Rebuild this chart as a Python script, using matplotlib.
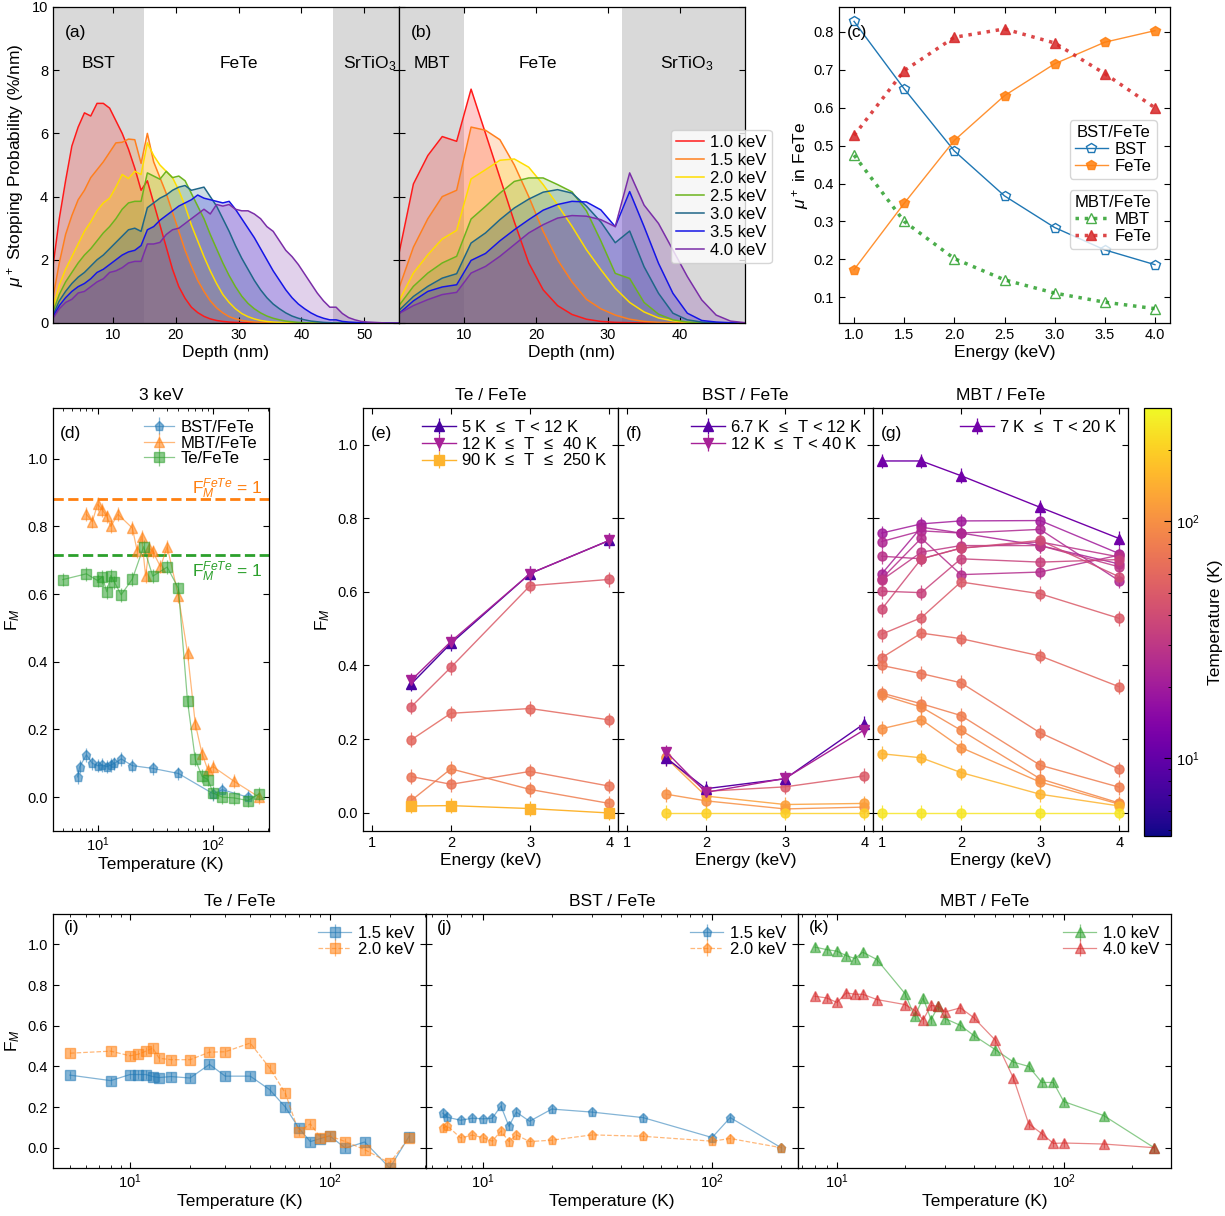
import numpy as np
import matplotlib
matplotlib.use("Agg")
import matplotlib.pyplot as plt
from matplotlib.colors import LogNorm
from matplotlib.cm import ScalarMappable

plt.rcParams["font.family"] = ["Liberation Sans", "DejaVu Sans"]
plt.rcParams["mathtext.fontset"] = "custom"
plt.rcParams["mathtext.rm"] = "Liberation Sans"
plt.rcParams["mathtext.it"] = "Liberation Sans:italic"
plt.rcParams["mathtext.bf"] = "Liberation Sans:bold"
plt.rcParams["axes.linewidth"] = 0.9

LABEL_FS = 12.5
TICK_FS = 10.5
LEG_FS = 12

# ---------------- stopping profiles (TRIM.SP) ----------------
ENERGY_LABELS = ["1.0 keV", "1.5 keV", "2.0 keV", "2.5 keV", "3.0 keV", "3.5 keV", "4.0 keV"]
PROFILE_COLORS = ["#ff1a1a", "#ff7f1e", "#ffdd00", "#6cb41e", "#1f6688", "#1515e6", "#7a2ea8"]

DEPTH_BST = np.arange(0.5, 56.0, 1.0)
PROF_BST = [
    [1.8, 3.3, 4.5, 5.6, 6.2, 6.65, 6.55, 6.95, 6.95, 6.8, 6.4, 6.0, 5.5, 4.9, 4.2, 4.5, 3.8, 3.1,
     2.4, 1.7, 1.15, 0.78, 0.5, 0.33, 0.21, 0.13, 0.08, 0.05, 0.03, 0.02, 0.01, 0.01],
    [0.8, 1.9, 2.8, 3.4, 3.9, 4.2, 4.6, 4.85, 5.1, 5.4, 5.7, 5.72, 5.82, 5.8, 5.05, 6.0, 5.1, 4.6,
     4.1, 3.5, 2.9, 2.3, 1.8, 1.35, 1.0, 0.7, 0.48, 0.32, 0.2, 0.13, 0.08, 0.05, 0.03, 0.02, 0.01],
    [0.5, 1.2, 1.7, 2.1, 2.5, 2.9, 3.2, 3.55, 3.8, 3.95, 4.3, 4.7, 4.57, 4.8, 4.7, 5.7, 5.3, 5.0,
     4.8, 4.6, 4.2, 3.7, 3.1, 2.6, 2.1, 1.65, 1.25, 0.9, 0.65, 0.45, 0.3, 0.2, 0.13, 0.08, 0.05,
     0.03, 0.02, 0.01],
    [0.35, 0.9, 1.3, 1.6, 1.9, 2.15, 2.35, 2.6, 2.85, 3.05, 3.3, 3.6, 3.8, 3.85, 3.85, 4.75, 4.65,
     4.55, 4.8, 4.6, 4.65, 4.5, 4.1, 3.7, 3.3, 2.8, 2.35, 1.9, 1.5, 1.15, 0.85, 0.62, 0.45, 0.32,
     0.22, 0.15, 0.1, 0.06, 0.04, 0.02, 0.01],
    [0.25, 0.7, 1.0, 1.25, 1.45, 1.6, 1.8, 2.0, 2.15, 2.35, 2.55, 2.75, 2.95, 3.0, 2.9, 3.65, 3.8,
     3.95, 4.05, 4.2, 4.3, 4.35, 4.2, 4.25, 4.3, 4.0, 3.7, 3.3, 2.9, 2.45, 2.05, 1.7, 1.35, 1.05,
     0.8, 0.6, 0.45, 0.32, 0.22, 0.15, 0.1, 0.06, 0.04, 0.02, 0.01],
    [0.2, 0.55, 0.8, 1.0, 1.15, 1.25, 1.4, 1.6, 1.7, 1.85, 2.0, 2.15, 2.25, 2.3, 2.45, 2.95, 3.05,
     3.25, 3.4, 3.55, 3.7, 3.8, 3.9, 4.05, 3.95, 3.9, 3.85, 3.8, 3.85, 3.6, 3.3, 3.0, 2.7, 2.35,
     2.0, 1.65, 1.35, 1.05, 0.8, 0.6, 0.45, 0.32, 0.22, 0.15, 0.1, 0.1, 0.05, 0.03, 0.02, 0.01],
    [0.15, 0.45, 0.65, 0.75, 0.95, 1.0, 1.15, 1.3, 1.4, 1.6, 1.65, 1.75, 1.9, 1.95, 1.95, 2.5, 2.5,
     2.55, 2.8, 2.95, 3.0, 3.15, 3.3, 3.45, 3.6, 3.45, 3.75, 3.7, 3.75, 3.6, 3.55, 3.55, 3.45, 3.3,
     3.05, 2.9, 2.6, 2.3, 2.1, 1.85, 1.55, 1.25, 0.95, 0.7, 0.5, 0.5, 0.3, 0.17, 0.1, 0.05, 0.03,
     0.02, 0.01],
]

DEPTH_MBT = np.arange(1.0, 50.0, 2.0)
PROF_MBT = [
    [2.2, 4.4, 5.3, 5.9, 5.75, 7.4, 6.0, 4.6, 3.2, 1.9, 1.05, 0.55, 0.27, 0.12, 0.05, 0.02, 0.01],
    [1.1, 2.4, 3.3, 4.0, 4.2, 6.2, 6.1, 5.8, 5.0, 4.0, 2.9, 2.0, 1.3, 0.75, 0.45, 0.25, 0.12,
     0.05, 0.02, 0.01],
    [0.7, 1.58, 2.16, 2.66, 2.93, 4.56, 4.85, 5.15, 5.19, 4.93, 4.38, 3.74, 3.06, 2.32, 1.69,
     1.1, 0.65, 0.35, 0.16, 0.07, 0.02, 0.01],
    [0.55, 1.16, 1.58, 1.9, 2.11, 3.29, 3.69, 4.11, 4.48, 4.59, 4.59, 4.38, 4.15, 3.55, 2.6,
     1.57, 1.41, 0.65, 0.28, 0.1, 0.03, 0.01],
    [0.4, 0.84, 1.16, 1.42, 1.56, 2.53, 2.85, 3.27, 3.64, 3.92, 4.14, 4.22, 4.11, 3.7, 3.2, 2.54,
     2.91, 1.78, 0.94, 0.31, 0.1, 0.03, 0.01],
    [0.3, 0.7, 1.0, 1.14, 1.21, 1.98, 2.2, 2.6, 2.95, 3.27, 3.57, 3.75, 3.85, 3.83, 3.58, 3.05,
     4.16, 3.05, 1.89, 0.94, 0.31, 0.08, 0.03, 0.01],
    [0.3, 0.55, 0.74, 0.9, 0.97, 1.58, 1.79, 2.11, 2.48, 2.85, 3.11, 3.32, 3.4, 3.38, 3.27, 3.05,
     4.75, 3.73, 3.15, 2.31, 1.47, 0.73, 0.25, 0.06, 0.01],
]

# ---------------- fraction of muons stopping in FeTe ----------------
E_FRAC = [1.0, 1.5, 2.0, 2.5, 3.0, 3.5, 4.0]
BST_FRAC_BST = [0.828, 0.65, 0.486, 0.3675, 0.284, 0.225, 0.186]
BST_FRAC_FETE = [0.173, 0.348, 0.514, 0.632, 0.716, 0.773, 0.8035]
MBT_FRAC_MBT = [0.475, 0.30, 0.202, 0.146, 0.111, 0.087, 0.07]
MBT_FRAC_FETE = [0.527, 0.698, 0.786, 0.808, 0.771, 0.69, 0.60]

# ---------------- magnetic fraction vs temperature ----------------
FM_ERR = 0.02

BST_T = [6.7, 7, 8, 9, 10, 11, 12, 13, 14, 16, 20, 30, 50, 100, 120, 200]
BST_FM_3KEV = [0.06, 0.09, 0.125, 0.10, 0.093, 0.095, 0.09, 0.095, 0.10, 0.113, 0.093, 0.085,
               0.07, 0.01, 0.022, 0.0]
BST_FM_15KEV = [0.17, 0.15, 0.135, 0.145, 0.142, 0.145, 0.205, 0.105, 0.175, 0.13, 0.19, 0.175,
                0.148, 0.05, 0.148, 0.0]
BST_FM_20KEV = [0.095, 0.108, 0.048, 0.062, 0.05, 0.032, 0.082, 0.03, 0.063, 0.03, 0.037, 0.063,
                0.056, 0.032, 0.045, 0.0]

MBT_T = [8, 9, 10, 11, 12, 13, 15, 20, 22, 24, 26, 28, 30, 35, 40, 50, 60, 70, 80, 90, 100, 150, 250]
MBT_FM_3KEV = [0.836, 0.814, 0.866, 0.849, 0.83, 0.80, 0.836, 0.795, 0.727, 0.77, 0.654, 0.736,
               0.726, 0.681, 0.74, 0.595, 0.426, 0.217, 0.129, 0.08, 0.09, 0.048, 0.0]
MBT_FM_10KEV = [0.987, 0.975, 0.967, 0.945, 0.931, 0.962, 0.926, 0.757, 0.646, 0.737, 0.63, 0.697,
                0.635, 0.602, 0.553, 0.482, 0.421, 0.4, 0.321, 0.321, 0.227, 0.158, 0.0]
MBT_FM_40KEV = [0.745, 0.737, 0.715, 0.762, 0.755, 0.755, 0.729, 0.704, 0.676, 0.63, 0.70, 0.696,
                0.668, 0.688, 0.641, 0.528, 0.342, 0.118, 0.069, 0.021, 0.023, 0.018, 0.0]

TE_T = [5, 8, 10, 11, 12, 13, 14, 16, 20, 25, 30, 40, 50, 60, 70, 80, 90, 100, 120, 150, 200, 250]
TE_FM_3KEV = [0.643, 0.66, 0.64, 0.651, 0.607, 0.655, 0.635, 0.598, 0.645, 0.74, 0.653, 0.68,
              0.617, 0.283, 0.112, 0.062, 0.052, 0.012, 0.0, -0.002, -0.01, 0.01]
TE_FM_15KEV = [0.357, 0.33, 0.36, 0.36, 0.36, 0.35, 0.345, 0.35, 0.343, 0.41, 0.352, 0.352,
               0.286, 0.2, 0.097, 0.03, 0.045, 0.058, -0.002, 0.028, -0.1, 0.055]
TE_FM_20KEV = [0.465, 0.475, 0.452, 0.46, 0.475, 0.49, 0.44, 0.433, 0.433, 0.47, 0.472, 0.515,
               0.393, 0.268, 0.078, 0.117, 0.05, 0.058, 0.03, -0.01, -0.075, 0.048]

FM_FETE_MBT = 0.88
FM_FETE_TE = 0.715

# ---------------- magnetic fraction vs energy ----------------
E_TE = [1.5, 2.0, 3.0, 4.0]
TE_LOW = [0.35, 0.46, 0.65, 0.74]        # 5 K <= T < 12 K
TE_MID = [0.36, 0.465, 0.65, 0.74]       # 12 K <= T <= 40 K
TE_HIGH = [0.018, 0.019, 0.011, -0.001]  # 90 K <= T <= 250 K
TE_CIRC_T = [50, 60, 70, 80]
TE_CIRC_FM = [[0.288, 0.395, 0.617, 0.634],
              [0.198, 0.27, 0.283, 0.252],
              [0.098, 0.077, 0.112, 0.072],
              [0.033, 0.119, 0.063, 0.025]]

E_BST = [1.5, 2.0, 3.0, 4.0]
BST_LOW = [0.148, 0.065, 0.092, 0.242]   # 6.7 K <= T < 12 K
BST_MID = [0.165, 0.055, 0.093, 0.225]   # 12 K <= T < 40 K
BST_CIRC_T = [50, 100, 120, 200]
BST_CIRC_FM = [[0.15, 0.058, 0.07, 0.10],
               [0.05, 0.032, 0.01, 0.015],
               [0.148, 0.045, 0.022, 0.025],
               [0.0, 0.0, 0.0, 0.0]]

E_MBT = [1.0, 1.5, 2.0, 3.0, 4.0]
MBT_LOW = [0.956, 0.956, 0.916, 0.83, 0.745]  # 7 K <= T < 20 K
MBT_CIRC_T = [20, 22, 24, 26, 28, 30, 35, 40, 50, 60, 70, 80, 90, 100, 150, 250]
MBT_CIRC_FM = [[0.760, 0.785, 0.793, 0.794, 0.704],
               [0.649, 0.776, 0.760, 0.726, 0.676],
               [0.737, 0.766, 0.760, 0.770, 0.630],
               [0.636, 0.746, 0.647, 0.654, 0.700],
               [0.697, 0.690, 0.719, 0.736, 0.695],
               [0.632, 0.708, 0.726, 0.726, 0.668],
               [0.602, 0.598, 0.690, 0.681, 0.688],
               [0.553, 0.690, 0.719, 0.740, 0.641],
               [0.485, 0.530, 0.627, 0.595, 0.528],
               [0.421, 0.488, 0.473, 0.426, 0.342],
               [0.400, 0.378, 0.353, 0.217, 0.118],
               [0.325, 0.296, 0.264, 0.129, 0.069],
               [0.320, 0.287, 0.224, 0.092, 0.026],
               [0.228, 0.253, 0.177, 0.083, 0.023],
               [0.160, 0.149, 0.109, 0.050, 0.018],
               [0.0, 0.0, 0.0, 0.0, 0.0]]

CMAP = plt.get_cmap("plasma")
NORM = LogNorm(vmin=4.7, vmax=300)

W, H = 1225, 1216
fig = plt.figure(figsize=(W / 100, H / 100), dpi=100)


def px_axes(l, t, r, b):
    return fig.add_axes([l / W, 1 - b / H, (r - l) / W, (b - t) / H])


def style(ax):
    ax.tick_params(which="both", direction="in", top=True, right=True, labelsize=TICK_FS)
    ax.tick_params(which="major", length=4)
    ax.tick_params(which="minor", length=2)


def pad(vals, n):
    return np.array(list(vals) + [0.0] * (n - len(vals)))


def tcolor(t):
    return CMAP(NORM(t))


# ---- (a) BST/FeTe profiles
ax_a = px_axes(53, 7, 399, 323)
ax_a.axvspan(0, 15, color="0.85", lw=0)
ax_a.axvspan(45, 60, color="0.85", lw=0)
for col, prof in zip(PROFILE_COLORS, PROF_BST):
    y = pad(prof, len(DEPTH_BST))
    ax_a.fill_between(DEPTH_BST, 0, y, color=col, alpha=0.22, lw=0)
    ax_a.plot(DEPTH_BST, y, color=col, lw=1.1)
ax_a.set_xlim(DEPTH_BST[0], DEPTH_BST[-1])
ax_a.set_ylim(0, 10)
ax_a.set_xticks([10, 20, 30, 40, 50])
ax_a.set_yticks([0, 2, 4, 6, 8, 10])
ax_a.set_xlabel("Depth (nm)", fontsize=LABEL_FS, labelpad=2)
ax_a.set_ylabel(r"$\mu^+$ Stopping Probability (%/nm)", fontsize=LABEL_FS)
ax_a.text(0.035, 0.918, "(a)", transform=ax_a.transAxes, fontsize=LABEL_FS, va="center")
ax_a.text(7.8, 8.2, "BST", fontsize=LABEL_FS, ha="center", va="center")
ax_a.text(30, 8.2, "FeTe", fontsize=LABEL_FS, ha="center", va="center")
ax_a.text(50.8, 8.2, r"SrTiO$_3$", fontsize=LABEL_FS, ha="center", va="center")
style(ax_a)

# ---- (b) MBT/FeTe profiles
ax_b = px_axes(399, 7, 745, 323)
ax_b.axvspan(0, 10, color="0.85", lw=0)
ax_b.axvspan(32, 60, color="0.85", lw=0)
lines_b = []
for col, lab, prof in zip(PROFILE_COLORS, ENERGY_LABELS, PROF_MBT):
    y = pad(prof, len(DEPTH_MBT))
    ax_b.fill_between(DEPTH_MBT, 0, y, color=col, alpha=0.22, lw=0)
    ln, = ax_b.plot(DEPTH_MBT, y, color=col, lw=1.1, label=lab)
    lines_b.append(ln)
ax_b.set_xlim(DEPTH_MBT[0], DEPTH_MBT[-1])
ax_b.set_ylim(0, 10)
ax_b.set_xticks([10, 20, 30, 40])
ax_b.set_yticks([0, 2, 4, 6, 8, 10])
ax_b.tick_params(labelleft=False)
ax_b.set_xlabel("Depth (nm)", fontsize=LABEL_FS, labelpad=2)
ax_b.text(0.035, 0.918, "(b)", transform=ax_b.transAxes, fontsize=LABEL_FS, va="center")
ax_b.text(5.6, 8.2, "MBT", fontsize=LABEL_FS, ha="center", va="center")
ax_b.text(20.3, 8.2, "FeTe", fontsize=LABEL_FS, ha="center", va="center")
ax_b.text(41.0, 8.2, r"SrTiO$_3$", fontsize=LABEL_FS, ha="center", va="center")
style(ax_b)
fig.legend(handles=lines_b, loc="upper left", bbox_to_anchor=(671 / W, 1 - 130 / H),
           fontsize=LEG_FS, frameon=True, framealpha=0.8, edgecolor="0.8",
           labelspacing=0.18, handlelength=1.7, handletextpad=0.35, borderpad=0.3,
           borderaxespad=0.0)

# ---- (c) fraction in FeTe
ax_c = px_axes(839, 7, 1170, 323)
h1, = ax_c.plot(E_FRAC, BST_FRAC_BST, "-p", color="tab:blue", mfc="none", ms=7, lw=1, label="BST")
h2, = ax_c.plot(E_FRAC, BST_FRAC_FETE, "-p", color="tab:orange", ms=7, lw=1, alpha=0.85, label="FeTe")
h3, = ax_c.plot(E_FRAC, MBT_FRAC_MBT, ":^", color="tab:green", mfc="none", ms=6.5, lw=2.5, alpha=0.85, label="MBT")
h4, = ax_c.plot(E_FRAC, MBT_FRAC_FETE, ":^", color="tab:red", ms=6.5, lw=2.5, alpha=0.85, label="FeTe")
ax_c.set_xticks(E_FRAC)
ax_c.set_yticks([0.1, 0.2, 0.3, 0.4, 0.5, 0.6, 0.7, 0.8])
ax_c.set_xlabel("Energy (keV)", fontsize=LABEL_FS, labelpad=2)
ax_c.set_ylabel(r"$\mu^+$ in FeTe", fontsize=LABEL_FS, labelpad=2)
ax_c.text(0.025, 0.918, "(c)", transform=ax_c.transAxes, fontsize=LABEL_FS, va="center")
leg_kw = dict(loc="upper right", fontsize=LEG_FS, title_fontsize=LEG_FS, labelspacing=0.1,
              handlelength=2.0, handletextpad=0.4, borderpad=0.3, edgecolor="0.8")
leg_c1 = ax_c.legend(handles=[h1, h2], title="BST/FeTe", bbox_to_anchor=(0.985, 0.668), **leg_kw)
ax_c.add_artist(leg_c1)
ax_c.legend(handles=[h3, h4], title="MBT/FeTe", bbox_to_anchor=(0.985, 0.446), **leg_kw)
style(ax_c)

# ---- (d) F_M at 3 keV
ax_d = px_axes(53, 408, 269, 831)
eb_kw = dict(ms=6.5, lw=0.9, elinewidth=0.9, capsize=0, alpha=0.55)
ax_d.errorbar(BST_T, BST_FM_3KEV, yerr=FM_ERR, fmt="-p", color="tab:blue", label="BST/FeTe", **eb_kw)
ax_d.errorbar(MBT_T, MBT_FM_3KEV, yerr=FM_ERR, fmt="-^", color="tab:orange", label="MBT/FeTe", **eb_kw)
ax_d.errorbar(TE_T, TE_FM_3KEV, yerr=FM_ERR, fmt="-s", color="tab:green", label="Te/FeTe", **eb_kw)
ax_d.axhline(FM_FETE_MBT, color="tab:orange", ls="--", lw=2)
ax_d.axhline(FM_FETE_TE, color="tab:green", ls="--", lw=2)
ax_d.text(0.97, 0.91, r"F$_M^{FeTe}$ = 1", transform=ax_d.get_yaxis_transform(),
          ha="right", va="center", fontsize=LABEL_FS, color="tab:orange")
ax_d.text(0.97, 0.665, r"F$_M^{FeTe}$ = 1", transform=ax_d.get_yaxis_transform(),
          ha="right", va="center", fontsize=LABEL_FS, color="tab:green")
ax_d.set_xscale("log")
ax_d.set_ylim(-0.1, 1.15)
ax_d.set_yticks([0.0, 0.2, 0.4, 0.6, 0.8, 1.0])
ax_d.set_title("3 keV", fontsize=LABEL_FS, pad=6)
ax_d.set_xlabel("Temperature (K)", fontsize=LABEL_FS, labelpad=2)
ax_d.set_ylabel(r"F$_M$", fontsize=LABEL_FS)
ax_d.text(0.03, 0.94, "(d)", transform=ax_d.transAxes, fontsize=LABEL_FS, va="center")
ax_d.legend(loc="upper right", frameon=False, fontsize=LEG_FS, labelspacing=0.05,
            handlelength=1.8, handletextpad=0.4, borderaxespad=0.3)
style(ax_d)

# ---- (e), (f), (g) F_M vs energy, coloured by temperature
gk = dict(ms=6.5, lw=1.0, elinewidth=0.9, capsize=0)
ck = dict(ms=6.5, lw=1.0, elinewidth=0.9, capsize=0, alpha=0.85)


def energy_panel(ax, e, circ_t, circ_fm, groups, title, tag, show_y):
    for t, fm in zip(circ_t, circ_fm):
        ax.errorbar(e, fm, yerr=FM_ERR, fmt="-o", color=tcolor(t), **ck)
    for vals, t_rep, mk, lab in groups:
        ax.errorbar(vals[0], vals[1], yerr=FM_ERR, fmt="-" + mk, color=tcolor(t_rep), label=lab, **gk)
    ax.set_xlim(0.89, 4.11)
    ax.set_ylim(-0.05, 1.1)
    ax.set_xticks([1, 2, 3, 4])
    ax.set_yticks([0.0, 0.2, 0.4, 0.6, 0.8, 1.0])
    ax.set_title(title, fontsize=LABEL_FS, pad=6)
    ax.set_xlabel("Energy (keV)", fontsize=LABEL_FS, labelpad=2)
    ax.text(0.03, 0.94, tag, transform=ax.transAxes, fontsize=LABEL_FS, va="center")
    style(ax)
    if show_y:
        ax.set_ylabel(r"F$_M$", fontsize=LABEL_FS)
    else:
        ax.tick_params(labelleft=False)
    ax.legend(loc="upper right", frameon=False, fontsize=LEG_FS, labelspacing=0.05,
              handlelength=2.0, handletextpad=0.3, borderaxespad=0.25)


ax_e = px_axes(363, 408, 618, 831)
energy_panel(ax_e, E_TE, TE_CIRC_T, TE_CIRC_FM,
             [((E_TE, TE_LOW), 7.7, "^", r"5 K $\,\leq\,$ T < 12 K"),
              ((E_TE, TE_MID), 21.9, "v", r"12 K $\,\leq\,$ T $\,\leq\,$ 40 K"),
              ((E_TE, TE_HIGH), 150, "s", r"90 K $\,\leq\,$ T $\,\leq\,$ 250 K")],
             "Te / FeTe", "(e)", True)

ax_f = px_axes(618, 408, 873, 831)
energy_panel(ax_f, E_BST, BST_CIRC_T, BST_CIRC_FM,
             [((E_BST, BST_LOW), 9.0, "^", r"6.7 K $\,\leq\,$ T < 12 K"),
              ((E_BST, BST_MID), 21.9, "v", r"12 K $\,\leq\,$ T < 40 K")],
             "BST / FeTe", "(f)", False)

ax_g = px_axes(873, 408, 1128, 831)
energy_panel(ax_g, E_MBT, MBT_CIRC_T, MBT_CIRC_FM,
             [((E_MBT, MBT_LOW), 11.8, "^", r"7 K $\,\leq\,$ T < 20 K")],
             "MBT / FeTe", "(g)", False)

cax = px_axes(1144, 408, 1171, 836)
cb = fig.colorbar(ScalarMappable(norm=NORM, cmap=CMAP), cax=cax)
cb.set_label("Temperature (K)", fontsize=LABEL_FS, labelpad=6)
cax.tick_params(which="both", direction="in", labelsize=TICK_FS)
cax.tick_params(which="major", length=5)
cax.tick_params(which="minor", length=2.5)

# ---- (i), (j), (k) F_M vs temperature at two energies
rk = dict(ms=6.5, lw=0.9, elinewidth=0.9, capsize=0, alpha=0.55)


def temp_panel(ax, series, title, tag, show_y):
    for t, fm, fmt, col, lab, ls in series:
        ax.errorbar(t, fm, yerr=FM_ERR, fmt=fmt, color=col, ls=ls, label=lab, **rk)
    ax.set_xscale("log")
    ax.set_ylim(-0.1, 1.15)
    ax.set_yticks([0.0, 0.2, 0.4, 0.6, 0.8, 1.0])
    ax.set_title(title, fontsize=LABEL_FS, pad=6)
    ax.set_xlabel("Temperature (K)", fontsize=LABEL_FS, labelpad=2)
    ax.text(0.03, 0.945, tag, transform=ax.transAxes, fontsize=LABEL_FS, va="center")
    style(ax)
    if show_y:
        ax.set_ylabel(r"F$_M$", fontsize=LABEL_FS)
    else:
        ax.tick_params(labelleft=False)
    ax.legend(loc="upper right", frameon=False, fontsize=LEG_FS, labelspacing=0.05,
              handlelength=2.0, handletextpad=0.4, borderaxespad=0.3)


ax_i = px_axes(53, 914, 426, 1168)
temp_panel(ax_i, [(TE_T, TE_FM_15KEV, "s", "tab:blue", "1.5 keV", "-"),
                  (TE_T, TE_FM_20KEV, "s", "tab:orange", "2.0 keV", "--")],
           "Te / FeTe", "(i)", True)

ax_j = px_axes(426, 914, 798, 1168)
temp_panel(ax_j, [(BST_T, BST_FM_15KEV, "p", "tab:blue", "1.5 keV", "-"),
                  (BST_T, BST_FM_20KEV, "p", "tab:orange", "2.0 keV", "--")],
           "BST / FeTe", "(j)", False)

ax_k = px_axes(798, 914, 1171, 1168)
temp_panel(ax_k, [(MBT_T, MBT_FM_10KEV, "^", "tab:green", "1.0 keV", "-"),
                  (MBT_T, MBT_FM_40KEV, "^", "tab:red", "4.0 keV", "-")],
           "MBT / FeTe", "(k)", False)

fig.savefig("out.png", dpi=100)
